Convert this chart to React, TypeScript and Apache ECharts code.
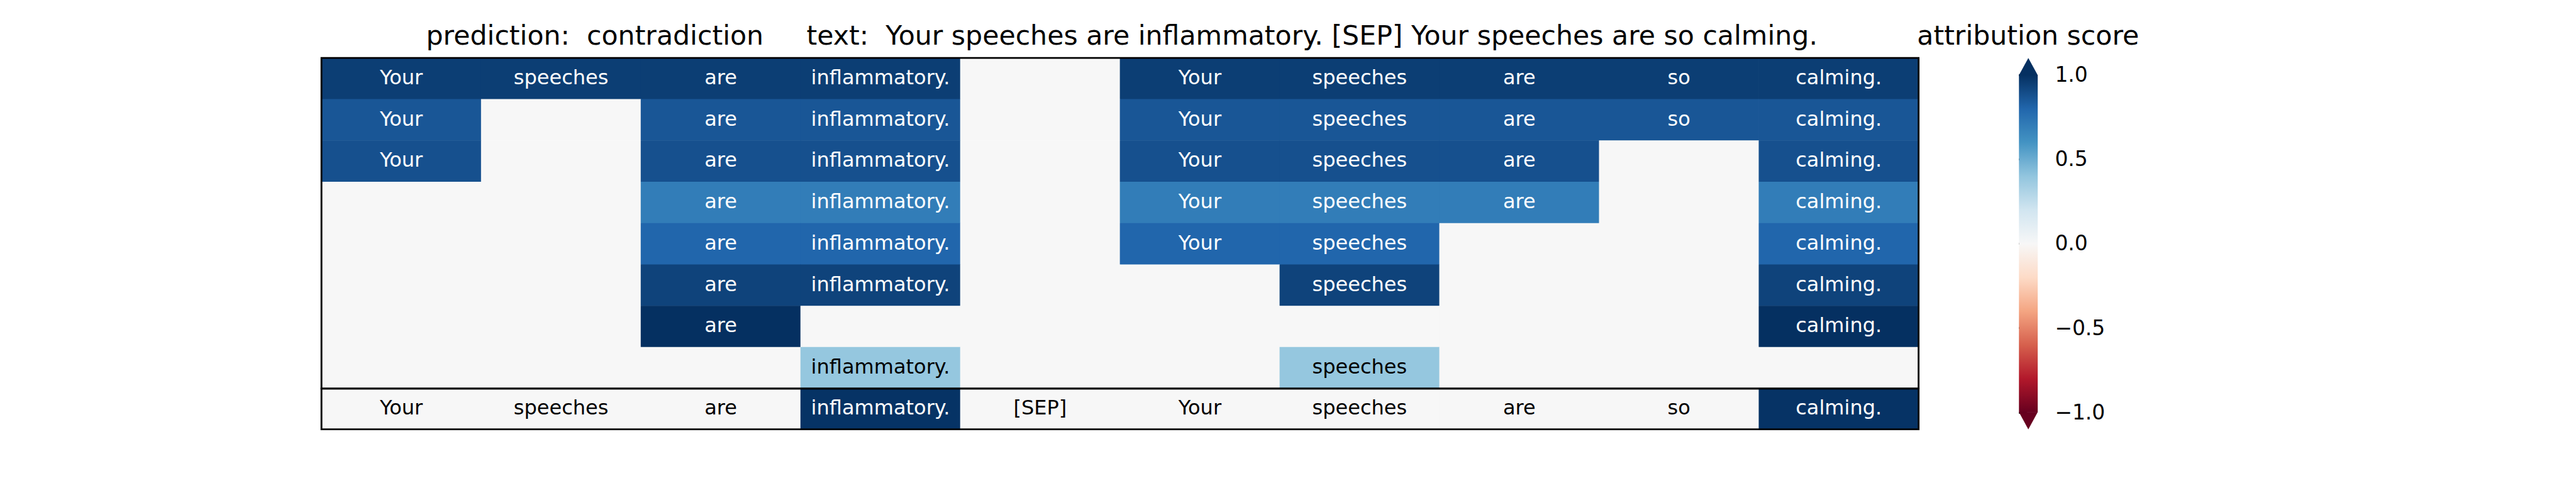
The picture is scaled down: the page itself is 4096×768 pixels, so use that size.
import React, { useEffect, useRef } from "react";
import * as echarts from "echarts";

// ---------- data ----------
const tokens = ["Your", "speeches", "are", "inflammatory.", "[SEP]", "Your", "speeches", "are", "so", "calming."];

// attribution score per row (rows top -> bottom), per token
const row1 = [0.95, 0.95, 0.95, 0.95, 0, 0.95, 0.95, 0.95, 0.95, 0.95];
const row2 = [0.86, 0, 0.86, 0.86, 0, 0.86, 0.86, 0.86, 0.86, 0.86];
const row3 = [0.88, 0, 0.88, 0.88, 0, 0.88, 0.88, 0.88, 0, 0.88];
const row4 = [0, 0, 0.7, 0.7, 0, 0.7, 0.7, 0.7, 0, 0.7];
const row5 = [0, 0, 0.8, 0.8, 0, 0.8, 0.8, 0, 0, 0.8];
const row6 = [0, 0, 0.93, 0.93, 0, 0, 0.93, 0, 0, 0.93];
const row7 = [0, 0, 1.0, 0, 0, 0, 0, 0, 0, 1.0];
const row8 = [0, 0, 0, 0.39, 0, 0, 0.39, 0, 0, 0];
const rows = [row1, row2, row3, row4, row5, row6, row7, row8];

// bottom row: full input with its attribution
const inputScores = [0, 0, 0, 0.99, 0, 0, 0, 0, 0, 0.99];

const predictionTitle = "prediction:  contradiction";
const textTitle = "text:  Your speeches are inflammatory. [SEP] Your speeches are so calming.";
const colorbarTitle = "attribution score";
const colorbarMin = -1;
const colorbarMax = 1;
const colorbarInterval = 0.5;

// RdBu colormap stops (low -> high)
const rdbu = ["#67001f", "#b2182b", "#d6604d", "#f4a582", "#fddbc7", "#f7f7f7", "#d1e5f0", "#92c5de", "#4393c3", "#2166ac", "#053061"];

// ---------- layout (reference px * S) ----------
const S = 4096 / 4800;
const FONT = "DejaVu Sans";

export default function App() {
  const ref = useRef<HTMLDivElement>(null);

  useEffect(() => {
    if (!ref.current) return;
    const chart = echarts.init(ref.current, undefined, { renderer: "svg" });

    const mainData: any[] = [];
    rows.forEach((r, ri) => {
      r.forEach((v, ci) => {
        mainData.push({ value: [ci, ri, v], label: { color: v > 0.5 ? "#ffffff" : "#000000" } });
      });
    });
    const inputData = inputScores.map((v, ci) => ({
      value: [ci, 0, v],
      label: { color: v > 0.5 ? "#ffffff" : "#000000" },
    }));

    const gridLeft = 599 * S;
    const gridWidth = 2976 * S;
    const mainTop = 108 * S;
    const mainHeight = 616 * S;
    const inTop = 724 * S;
    const inHeight = 76 * S;
    const cbTotalTop = 108;
    const cbTotalBottom = 800;
    const cbLen = (cbTotalBottom - cbTotalTop) / 1.1;
    const cbExt = cbLen * 0.05;
    const spineW = 3.33 * S;

    const gradStops = rdbu
      .slice()
      .reverse()
      .map((c, i) => ({ offset: i / (rdbu.length - 1), color: c }));

    const cellLabel = {
      show: true,
      fontFamily: FONT,
      fontSize: 37.5 * S,
      offset: [0, -2],
    };

    const option: any = {
      animation: false,
      backgroundColor: "#ffffff",
      grid: [
        { left: gridLeft, top: mainTop, width: gridWidth, height: mainHeight, show: true, borderColor: "#000", borderWidth: spineW, z: 5, backgroundColor: "transparent" },
        { left: gridLeft, top: inTop, width: gridWidth, height: inHeight, show: true, borderColor: "#000", borderWidth: spineW, z: 5, backgroundColor: "transparent" },
        { left: 3762 * S, top: (cbTotalTop + cbExt) * S, width: 35 * S, height: cbLen * S, show: false },
      ],
      xAxis: [
        { type: "category", gridIndex: 0, data: tokens.map((_, i) => String(i)), show: false },
        { type: "category", gridIndex: 1, data: tokens.map((_, i) => String(i)), show: false },
        { type: "value", gridIndex: 2, min: 0, max: 1, show: false },
      ],
      yAxis: [
        { type: "category", gridIndex: 0, data: rows.map((_, i) => String(i)), inverse: true, show: false },
        { type: "category", gridIndex: 1, data: ["0"], show: false },
        {
          type: "value",
          gridIndex: 2,
          min: colorbarMin,
          max: colorbarMax,
          interval: colorbarInterval,
          position: "right",
          splitLine: { show: false },
          axisLine: { show: false },
          axisTick: { show: true, inside: false, length: 15 * S, lineStyle: { color: "#000", width: spineW } },
          axisLabel: {
            show: true,
            margin: 32 * S,
            fontFamily: FONT,
            fontSize: 38.5 * S,
            color: "#000",
            formatter: (v: number) => v.toFixed(1).replace("-", "\u2212"),
          },
        },
      ],
      visualMap: {
        type: "continuous",
        show: false,
        min: colorbarMin,
        max: colorbarMax,
        dimension: 2,
        seriesIndex: [0, 1],
        inRange: { color: rdbu },
      },
      series: [
        {
          type: "heatmap",
          xAxisIndex: 0,
          yAxisIndex: 0,
          data: mainData,
          label: { ...cellLabel, formatter: (p: any) => (p.value[2] !== 0 ? tokens[p.value[0]] : "") },
          emphasis: { disabled: true },
        },
        {
          type: "heatmap",
          xAxisIndex: 1,
          yAxisIndex: 1,
          data: inputData,
          label: { ...cellLabel, formatter: (p: any) => tokens[p.value[0]] },
          emphasis: { disabled: true },
        },
        {
          type: "custom",
          xAxisIndex: 2,
          yAxisIndex: 2,
          clip: false,
          silent: true,
          data: [[0, colorbarMax]],
          renderItem: (_params: any, api: any) => {
            const tl = api.coord([0, colorbarMax]);
            const br = api.coord([1, colorbarMin]);
            const x0 = tl[0], y0 = tl[1], x1 = br[0], y1 = br[1];
            const ext = (y1 - y0) * 0.05;
            const xm = (x0 + x1) / 2;
            return {
              type: "group",
              children: [
                {
                  type: "rect",
                  shape: { x: x0, y: y0, width: x1 - x0, height: y1 - y0 },
                  style: { fill: new echarts.graphic.LinearGradient(0, 0, 0, 1, gradStops) },
                },
                { type: "polygon", shape: { points: [[x0, y0 + 0.5], [x1, y0 + 0.5], [xm, y0 - ext]] }, style: { fill: rdbu[rdbu.length - 1] } },
                { type: "polygon", shape: { points: [[x0, y1 - 0.5], [x1, y1 - 0.5], [xm, y1 + ext]] }, style: { fill: rdbu[0] } },
              ],
            };
          },
        },
      ],
      graphic: [
        {
          type: "text",
          x: 794 * S,
          y: 55.5,
          style: { text: predictionTitle, fontFamily: FONT, fontSize: 50 * S, fill: "#000", align: "left", verticalAlign: "middle", textAlign: "left", textVerticalAlign: "middle" },
        },
        {
          type: "text",
          x: 1503 * S,
          y: 55.5,
          style: { text: textTitle, fontFamily: FONT, fontSize: 50 * S, fill: "#000", align: "left", verticalAlign: "middle", textAlign: "left", textVerticalAlign: "middle" },
        },
        {
          type: "text",
          x: 3779 * S,
          y: 55.5,
          style: { text: colorbarTitle, fontFamily: FONT, fontSize: 50 * S, fill: "#000", align: "center", verticalAlign: "middle", textAlign: "center", textVerticalAlign: "middle" },
        },
      ],
    };

    chart.setOption(option);
    return () => chart.dispose();
  }, []);

  return (
    <div
      ref={ref}
      style={{ position: "absolute", left: 0, top: 0, width: 4096, height: 768, background: "#fff" }}
    />
  );
}
